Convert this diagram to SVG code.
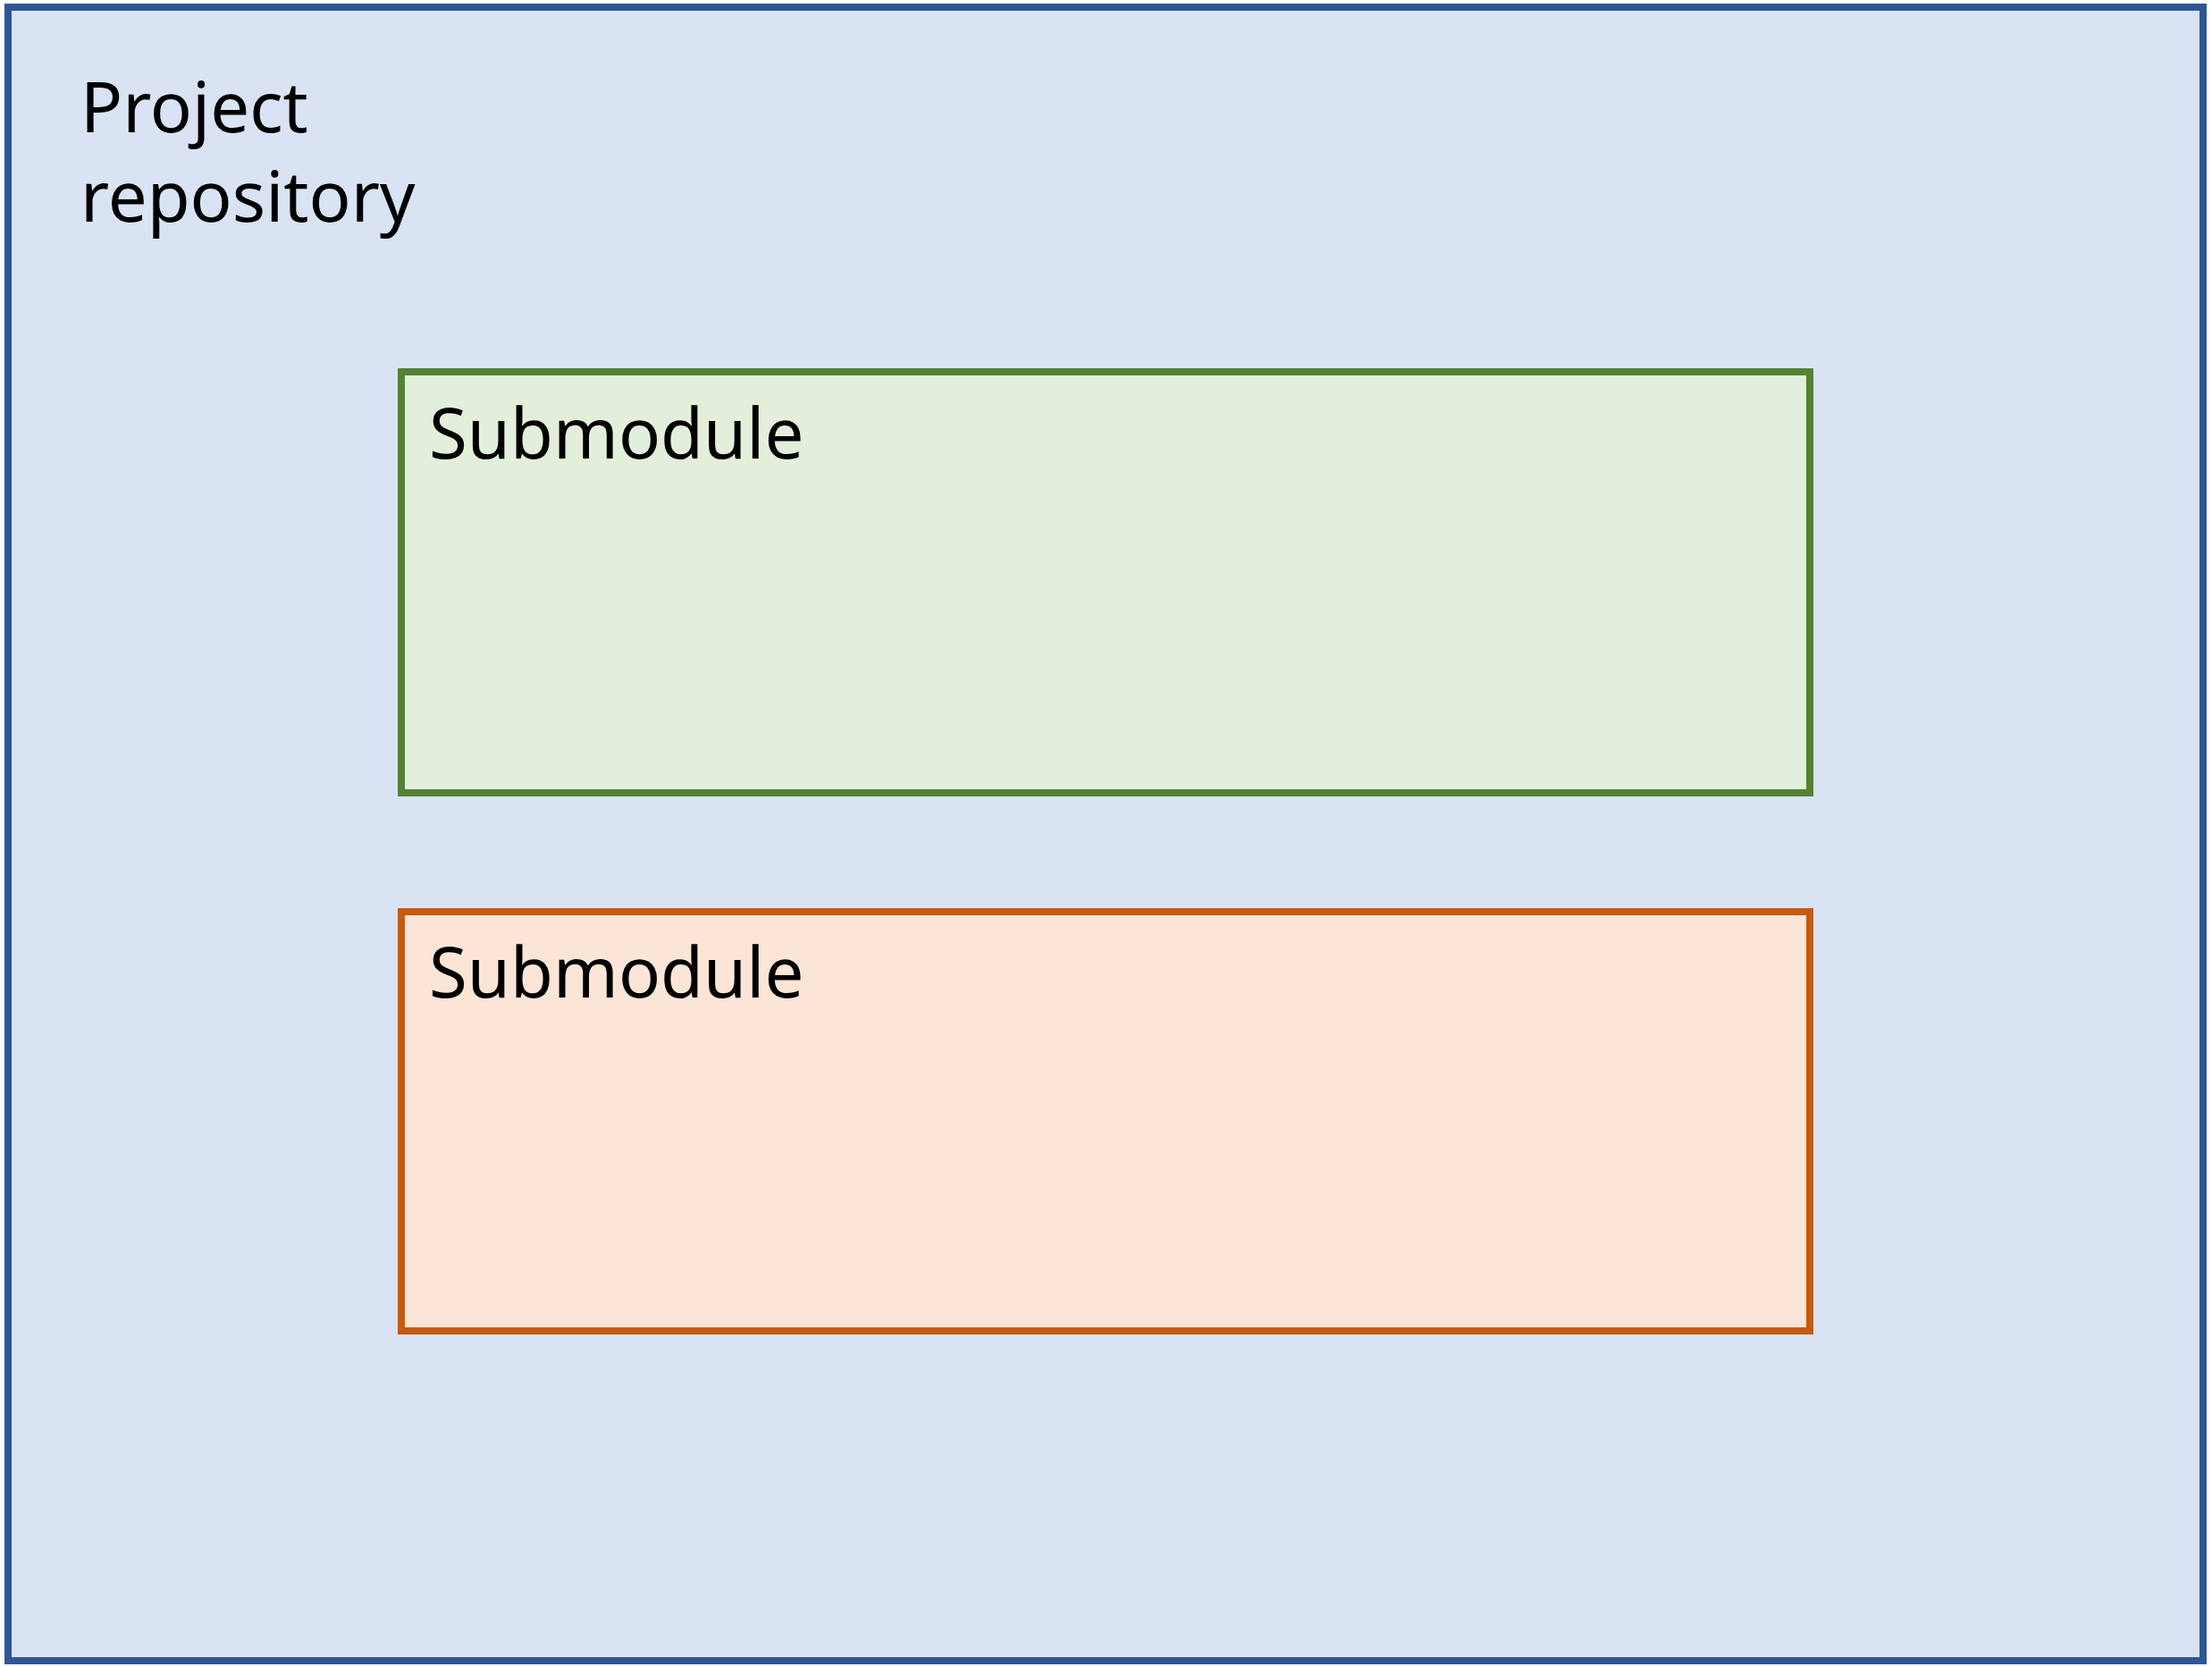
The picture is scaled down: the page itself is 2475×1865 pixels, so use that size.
<svg xmlns="http://www.w3.org/2000/svg" width="2475" height="1865" viewBox="0 0 2475 1865">
<style>
text{font-family:"Noto Sans","Open Sans","Liberation Sans",sans-serif;font-size:78px;fill:#000}
</style>
<rect width="2475" height="1865" fill="#ffffff"/>
<g id="repo">
<rect x="9" y="8" width="2456" height="1850" fill="#dae3f3" stroke="#2f5597" stroke-width="8"/>
<text x="90" y="148">Project</text>
<text x="90" y="248">repository</text>
</g>
<g id="sub1">
<rect x="449" y="416" width="1576" height="471" fill="#e2efda" stroke="#548235" stroke-width="8"/>
<text x="480" y="513">Submodule</text>
</g>
<g id="sub2">
<rect x="449" y="1020" width="1576" height="469" fill="#fbe5d6" stroke="#c55a11" stroke-width="8"/>
<text x="480" y="1116">Submodule</text>
</g>
<g id="connectors"/>
</svg>
